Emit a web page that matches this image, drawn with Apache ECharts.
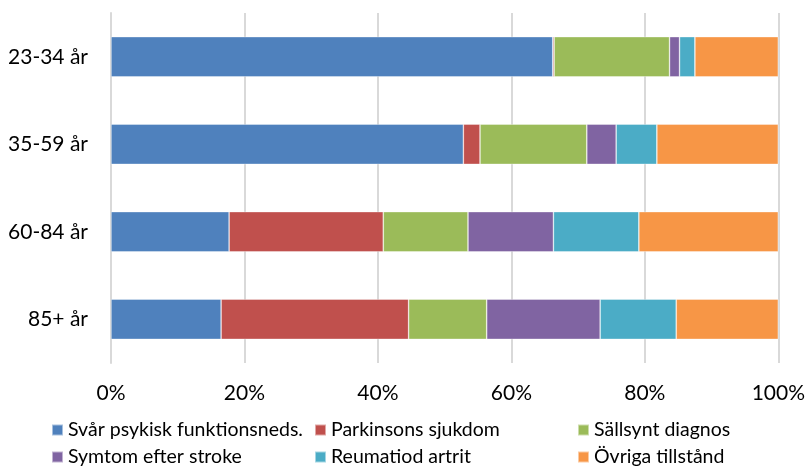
<!DOCTYPE html>
<html>
<head>
<meta charset="utf-8">
<script src="https://cdn.jsdelivr.net/npm/echarts@6/dist/echarts.min.js"></script>
<style>html,body{margin:0;padding:0;background:#fff}#c{width:808px;height:466px}</style>
</head>
<body>
<div id="c"></div>
<script>
const categories = ['23-34 år', '35-59 år', '60-84 år', '85+ år'];
const seriesNames = ['Svår psykisk funktionsneds.', 'Parkinsons sjukdom', 'Sällsynt diagnos', 'Symtom efter stroke', 'Reumatiod artrit', 'Övriga tillstånd'];
const svarPsykisk = [66.2, 52.8, 17.7, 16.5];
const parkinsons = [0.2, 2.5, 23.1, 28.1];
const sallsynt = [17.3, 16.0, 12.7, 11.7];
const stroke = [1.5, 4.4, 12.8, 17.0];
const reumatoid = [2.3, 6.1, 12.8, 11.4];
const ovriga = [12.5, 18.2, 20.9, 15.3];
const colors = ['#4F81BD', '#C0504D', '#9BBB59', '#8064A2', '#4BACC6', '#F79646'];
const xTicks = [0, 20, 40, 60, 80, 100];

const values = [svarPsykisk, parkinsons, sallsynt, stroke, reumatoid, ovriga];
const FONT = 'Lato';
const chart = echarts.init(document.getElementById('c'));
const legendBase = {
  orient: 'horizontal', left: 51, width: 800, padding: 0,
  itemWidth: 11, itemHeight: 11, itemGap: 1, icon: 'rect',
  selectedMode: false,
  textStyle: { fontFamily: FONT, fontSize: 19.5, color: '#000', width: 245, lineHeight: 26 }
};
chart.setOption({
  animation: false,
  color: colors,
  grid: { left: 111, right: 29, top: 13, bottom: 103, containLabel: false },
  xAxis: {
    type: 'value', min: 0, max: 100, interval: 20,
    axisLabel: { fontFamily: FONT, fontSize: 21, color: '#000', margin: 20, formatter: v => v + '%' },
    axisLine: { show: false }, axisTick: { show: false },
    splitLine: { show: true, lineStyle: { color: '#D9D9D9', width: 2 } }
  },
  yAxis: {
    type: 'category', data: categories, inverse: true,
    axisLabel: { fontFamily: FONT, fontSize: 21, color: '#000', margin: 23 },
    axisLine: { show: true, lineStyle: { color: '#D9D9D9', width: 2 } },
    axisTick: { show: false }
  },
  legend: [
    Object.assign({}, legendBase, { top: 417, data: seriesNames.slice(0, 3) }),
    Object.assign({}, legendBase, { top: 444, data: seriesNames.slice(3) })
  ],
  series: seriesNames.map((name, i) => ({
    name, type: 'bar', stack: 'total', barCategoryGap: '54%',
    data: values[i],
    itemStyle: { color: colors[i], borderColor: 'rgba(255,255,255,0.5)', borderWidth: 0.7 }
  }))
});
</script>
</body>
</html>
